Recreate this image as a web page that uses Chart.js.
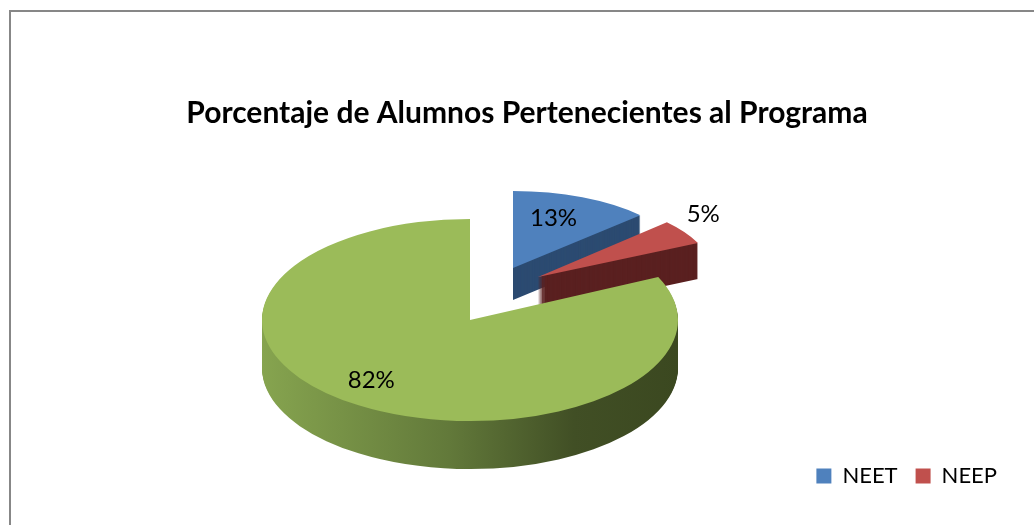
<!DOCTYPE html>
<html lang="es">
  <head>
    <meta charset="UTF-8" />
    <title>Porcentaje de Alumnos Pertenecientes al Programa</title>
    <script src="https://cdn.jsdelivr.net/npm/chart.js@4.4.1/dist/chart.umd.min.js"></script>
    <style>
      html, body { margin: 0; padding: 0; background: #fff; overflow: hidden; }
      #frame {
        position: absolute; left: 9px; top: 10px; width: 1200px; height: 700px;
        border-left: 2px solid #878787; border-top: 2px solid #878787;
      }
      #wrap { position: absolute; left: 0; top: 0; width: 1034px; height: 525px; }
    </style>
  </head>

  <body>
    <div id="frame"></div>
    <div id="wrap">
      <canvas id="myChart"></canvas>
    </div>

    <script>
      const labels = ["NEET", "NEEP", "Otros"];
      const percentages = [13, 5, 82];
      const topColors = ["#4f81bd", "#c0504d", "#9bbb59"];
      const sideColors = ["#2c4b71", "#5a2020", null];

      // 3D-looking pie: each library arc is squashed, extruded and pulled out;
      // the slices at the back get a smaller scale to fake the perspective
      const pie3d = {
        id: "pie3d",
        beforeDatasetsDraw(chart, args, opts) {
          const ctx = chart.ctx;
          const arcs = chart.getDatasetMeta(0).data;
          arcs.forEach((arc, i) => {
            const p = arc.getProps(["x", "y", "outerRadius"], true);
            const [ox, oy] = opts.explode[i];
            const [sx, sy] = opts.scale[i];
            const place = (down) => {
              ctx.translate(opts.cx + ox, opts.cy + oy + down);
              ctx.scale(sx, sy);
              ctx.translate(-p.x, -p.y);
            };
            for (let d = opts.depth[i]; d >= 1; d--) {
              ctx.save();
              place(d);
              let fill = sideColors[i];
              if (!fill) {
                fill = ctx.createLinearGradient(p.x - p.outerRadius, 0, p.x + p.outerRadius, 0);
                fill.addColorStop(0, "#86a44f");
                fill.addColorStop(0.45, "#62793a");
                fill.addColorStop(0.75, "#414f25");
                fill.addColorStop(1, "#3b4820");
              }
              const ghost = Object.create(arc);
              ghost.options = Object.create(arc.options);
              ghost.options.backgroundColor = fill;
              ghost.draw(ctx);
              ctx.restore();
            }
            ctx.save();
            place(0);
            arc.draw(ctx);
            ctx.restore();
          });
          return false;
        },
        afterDraw(chart, args, opts) {
          const ctx = chart.ctx;
          const arcs = chart.getDatasetMeta(0).data;
          ctx.save();
          ctx.font = "24px Lato";
          ctx.fillStyle = "#000";
          ctx.textAlign = "center";
          ctx.textBaseline = "middle";
          arcs.forEach((arc, i) => {
            const p = arc.getProps(["startAngle", "endAngle", "outerRadius"], true);
            const mid = (p.startAngle + p.endAngle) / 2;
            const r = p.outerRadius * opts.labelRadius[i];
            const [sx, sy] = opts.scale[i];
            const x = opts.cx + opts.explode[i][0] + Math.cos(mid) * r * sx + opts.labelNudge[i][0];
            const y = opts.cy + opts.explode[i][1] + Math.sin(mid) * r * sy + opts.labelNudge[i][1];
            ctx.fillText(percentages[i] + "%", x, y);
          });
          ctx.restore();
        },
      };

      const config = {
        type: "pie",
        data: {
          labels: labels,
          datasets: [
            {
              data: percentages,
              backgroundColor: topColors,
              borderWidth: 0,
            },
          ],
        },
        options: {
          responsive: true,
          maintainAspectRatio: false,
          animation: false,
          events: [],
          radius: 208,
          layout: { padding: { left: 39, right: 19, top: 0, bottom: 28 } },
          plugins: {
            title: {
              display: true,
              text: "Porcentaje de Alumnos Pertenecientes al Programa",
              color: "#000",
              font: { family: "Lato", size: 30, weight: "bold" },
              padding: { top: 95, bottom: 10 },
            },
            legend: {
              position: "bottom",
              align: "end",
              labels: {
                boxWidth: 15,
                boxHeight: 15,
                padding: 18,
                color: "#000",
                font: { family: "Lato", size: 22 },
                filter: (item) => item.index < 2,
              },
            },
            tooltip: { enabled: false },
            pie3d: {
              cx: 470,
              cy: 320,
              explode: [[43, -52], [68, -43], [0, 0]],
              scale: [[0.84, 0.37], [0.85, 0.385], [1, 0.486]],
              depth: [32, 36, 48],
              labelRadius: [0.7, 1.13, 0.76],
              labelNudge: [[-8, 0], [0, -12], [-14, -5]],
            },
          },
        },
        plugins: [pie3d],
      };

      const myChart = new Chart(document.getElementById("myChart"), config);
    </script>
  </body>
</html>
